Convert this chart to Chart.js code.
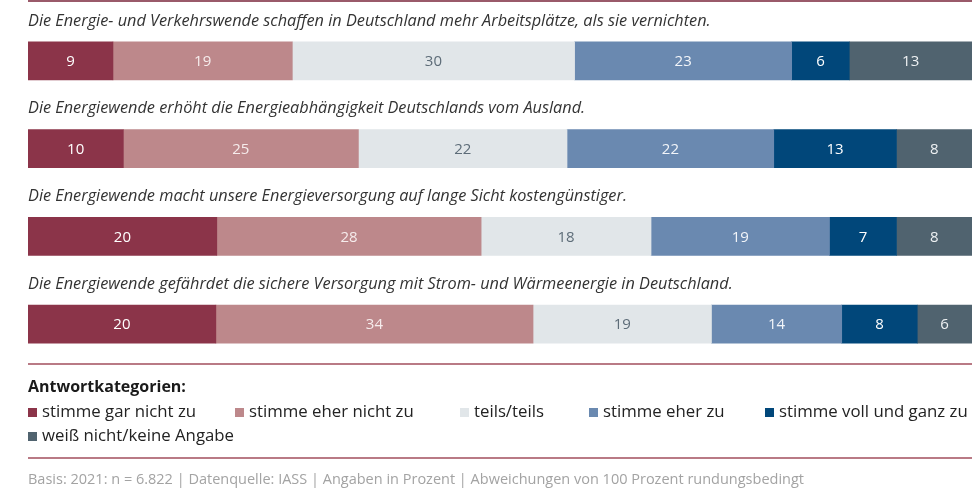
<!DOCTYPE html>
<html><head><meta charset="utf-8">
<script src="https://cdn.jsdelivr.net/npm/chart.js@4/dist/chart.umd.min.js"></script>
<style>
html,body{margin:0;padding:0;background:#fff;}
#wrap{position:relative;width:972px;height:496px;overflow:hidden;font-family:"Open Sans",sans-serif;}
#c{position:absolute;left:0;top:0;}
.hl{position:absolute;left:28px;width:944px;}
#legendTitle{position:absolute;left:28px;top:375px;font-weight:700;font-size:16px;color:#1a1a1a;line-height:22px;}
.li{position:absolute;font-size:16.8px;color:#222;line-height:22px;white-space:nowrap;}
.li span.sw{display:inline-block;width:9px;height:9px;margin-right:5px;vertical-align:baseline;}
#footer{position:absolute;left:28px;top:469px;font-size:14.5px;color:#a3a3a3;line-height:20px;white-space:nowrap;}
</style></head>
<body>
<div id="wrap">
<canvas id="c" width="972" height="496"></canvas>
<div class="hl" style="top:0px;height:2px;background:#9a5a6a;"></div>
<div class="hl" style="top:363px;height:2px;background:#b97a85;"></div>
<div id="legendTitle">Antwortkategorien:</div>
<div id="legend"></div>
<div class="hl" style="top:457px;height:2px;background:#b97a85;"></div>
<div id="footer">Basis: 2021: n = 6.822 | Datenquelle: IASS | Angaben in Prozent | Abweichungen von 100 Prozent rundungsbedingt</div>
</div>
<script>
const statements = [
  "Die Energie- und Verkehrswende schaffen in Deutschland mehr Arbeitsplätze, als sie vernichten.",
  "Die Energiewende erhöht die Energieabhängigkeit Deutschlands vom Ausland.",
  "Die Energiewende macht unsere Energieversorgung auf lange Sicht kostengünstiger.",
  "Die Energiewende gefährdet die sichere Versorgung mit Strom- und Wärmeenergie in Deutschland."
];
const categories = ["stimme gar nicht zu","stimme eher nicht zu","teils/teils","stimme eher zu","stimme voll und ganz zu","weiß nicht/keine Angabe"];
const garNicht   = [9.0, 10.1, 20.0, 19.9];
const eherNicht  = [19.0, 24.9, 28.0, 33.6];
const teils      = [29.9, 22.1, 18.0, 18.9];
const eherZu     = [23.0, 21.9, 18.9, 13.8];
const vollGanz   = [6.1, 13.0, 7.1, 8.0];
const weissNicht = [13.0, 8.0, 8.0, 5.8];

const seriesValues = [garNicht, eherNicht, teils, eherZu, vollGanz, weissNicht];
const colors = ["#8b3449","#bd888b","#e1e6e9","#6a89b0","#01477a","#50636f"];
const labelColors = ["#ffffff","#f6ecec","#5d6c78","#f2f5f9","#ffffff","#eef1f3"];

const titlePlugin = {
  id:'titles',
  afterDatasetsDraw(chart){
    const ctx = chart.ctx;
    const meta = chart.getDatasetMeta(0);
    ctx.save();
    ctx.font = 'italic 16.3px "Open Sans"';
    ctx.fillStyle = '#333';
    ctx.textBaseline = 'middle';
    ctx.textAlign = 'left';
    chart.data.labels.forEach((lab,i)=>{
      const el = meta.data[i];
      ctx.fillText(lab, chart.chartArea.left, el.y - 40);
    });
    ctx.restore();
  }
};
const valuePlugin = {
  id:'values',
  afterDatasetsDraw(chart){
    const ctx = chart.ctx;
    ctx.save();
    ctx.font = '15px "Open Sans"';
    ctx.textBaseline = 'middle';
    ctx.textAlign = 'center';
    chart.data.datasets.forEach((ds,di)=>{
      const meta = chart.getDatasetMeta(di);
      meta.data.forEach((el,i)=>{
        ctx.fillStyle = labelColors[di];
        ctx.fillText(String(Math.round(ds.data[i])), (el.x+el.base)/2, el.y+1);
      });
    });
    ctx.restore();
  }
};

new Chart(document.getElementById('c'), {
  type:'bar',
  data:{
    labels: statements,
    datasets: categories.map((c,i)=>({label:c, data:seriesValues[i], backgroundColor:colors[i], borderWidth:0, barThickness:38}))
  },
  options:{
    indexAxis:'y',
    responsive:false,
    animation:false,
    layout:{padding:{left:28,right:0,top:17,bottom:128}},
    scales:{
      x:{stacked:true,min:0,max:100,display:false},
      y:{stacked:true,display:false}
    },
    plugins:{legend:{display:false},tooltip:{enabled:false}}
  },
  plugins:[titlePlugin, valuePlugin]
});

const legendPos = [[28,400],[235,400],[460,400],[589,400],[765,400],[28,424]];
const lg = document.getElementById('legend');
categories.forEach((c,i)=>{
  const d = document.createElement('div');
  d.className='li';
  d.style.left = legendPos[i][0]+'px';
  d.style.top = legendPos[i][1]+'px';
  d.innerHTML = '<span class="sw" style="background:'+colors[i]+'"></span>'+c;
  lg.appendChild(d);
});
</script>
</body></html>
